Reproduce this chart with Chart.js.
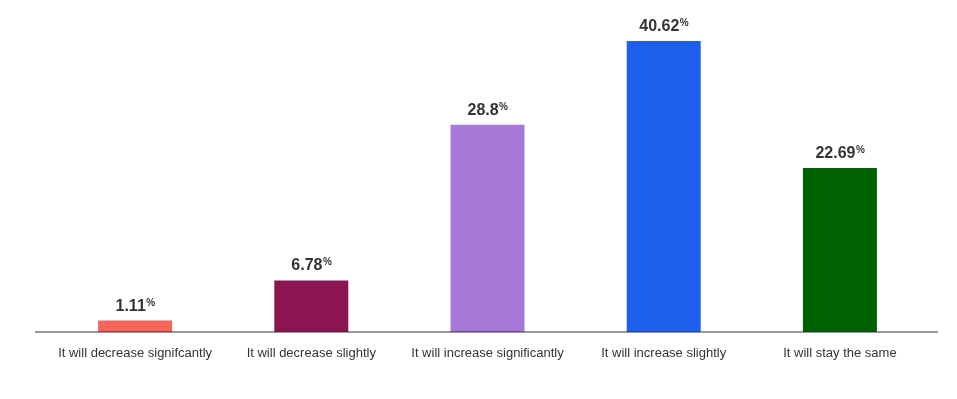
<!DOCTYPE html>
<html>
<head>
<meta charset="utf-8">
<script src="https://cdn.jsdelivr.net/npm/chart.js@4"></script>
<style>
  html, body { margin: 0; padding: 0; background: #fff; }
  #wrap { width: 957px; height: 399px; }
</style>
</head>
<body>
<div id="wrap"><canvas id="barChart"></canvas></div>
<script>
// данные графика
const categories = [
    'It will decrease signifcantly',
    'It will decrease slightly',
    'It will increase significantly',
    'It will increase slightly',
    'It will stay the same'
];
const shares = [1.11, 6.78, 28.8, 40.62, 22.69];
const barColors = ['#F6645A', '#8B1550', '#A678D8', '#1F5FEE', '#006100'];

// подписи над столбцами: число + маленький знак %
const valueLabels = {
    id: 'valueLabels',
    afterDatasetsDraw(chart) {
        const ctx = chart.ctx;
        const meta = chart.getDatasetMeta(0);
        ctx.save();
        ctx.fillStyle = '#333333';
        ctx.textBaseline = 'alphabetic';
        meta.data.forEach((bar, i) => {
            const txt = String(shares[i]);
            ctx.font = 'bold 16px "Liberation Sans", Arial, sans-serif';
            const w1 = ctx.measureText(txt).width;
            ctx.font = 'bold 10px "Liberation Sans", Arial, sans-serif';
            const w2 = ctx.measureText('%').width;
            const x0 = bar.x - (w1 + w2) / 2;
            const y = bar.y - 10;
            ctx.font = 'bold 16px "Liberation Sans", Arial, sans-serif';
            ctx.textAlign = 'left';
            ctx.fillText(txt, x0, y);
            ctx.font = 'bold 10px "Liberation Sans", Arial, sans-serif';
            ctx.fillText('%', x0 + w1 + 0.5, y - 5);
        });
        ctx.restore();
    }
};

// линия оси, чуть шире области графика
const baseLine = {
    id: 'baseLine',
    afterDatasetsDraw(chart) {
        const ctx = chart.ctx;
        const y = chart.chartArea.bottom;
        ctx.save();
        ctx.strokeStyle = '#333333';
        ctx.lineWidth = 1.2;
        ctx.beginPath();
        ctx.moveTo(35, y);
        ctx.lineTo(938, y);
        ctx.stroke();
        ctx.restore();
    }
};

const barCtx = document.getElementById('barChart').getContext('2d');
const barChart = new Chart(barCtx, {
    type: 'bar',
    data: {
        labels: categories,
        datasets: [{
            data: shares,
            base: -0.5,
            backgroundColor: barColors,
            borderWidth: 0,
            barPercentage: 0.42,
            categoryPercentage: 1
        }]
    },
    options: {
        responsive: true,
        maintainAspectRatio: false,
        animation: false,
        layout: { padding: { left: 47, right: 29, top: 10, bottom: 0 } },
        plugins: {
            legend: { display: false },
            tooltip: { enabled: false }
        },
        scales: {
            x: {
                grid: { display: false },
                border: { display: false },
                ticks: {
                    color: '#333333',
                    padding: 6,
                    maxRotation: 0,
                    autoSkip: false,
                    font: { family: '"Liberation Sans", Arial, sans-serif', size: 13 }
                },
                afterFit: function (scale) { scale.height = 67; }
            },
            y: {
                display: false,
                min: -0.5,
                max: 45
            }
        }
    },
    plugins: [valueLabels, baseLine]
});
</script>
</body>
</html>
